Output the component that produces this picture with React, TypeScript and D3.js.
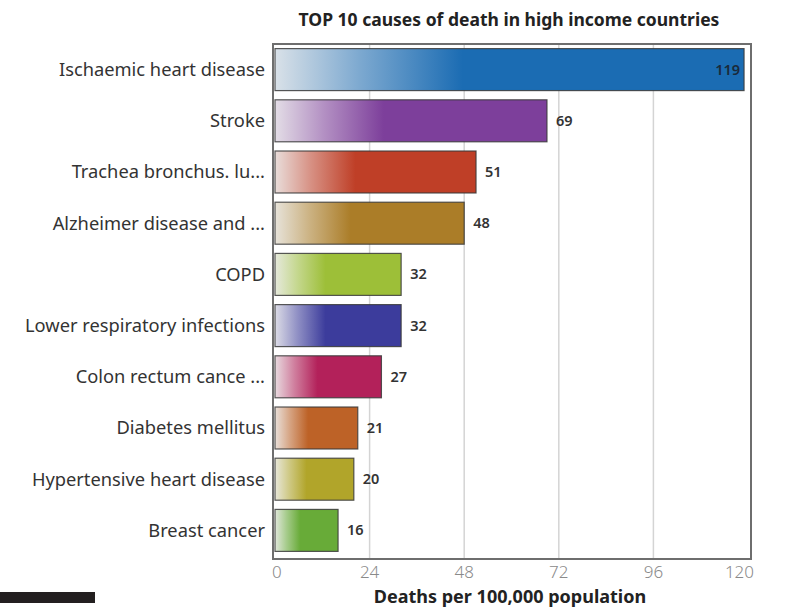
import React, { useEffect, useRef } from 'react';
import * as d3 from 'd3';

const causes = [
  'Ischaemic heart disease',
  'Stroke',
  'Trachea bronchus. lu...',
  'Alzheimer disease and ...',
  'COPD',
  'Lower respiratory infections',
  'Colon rectum cance ...',
  'Diabetes mellitus',
  'Hypertensive heart disease',
  'Breast cancer',
];
const deaths = [119, 69, 51, 48, 32, 32, 27, 21, 20, 16];
const barColors = [
  '#1b6cb3', '#7d3f9b', '#bf3f27', '#ab7d28', '#9dbf38',
  '#3c3c9c', '#b3215a', '#bd6227', '#b1a52a', '#68ab38',
];
const xTicks = [0, 24, 48, 72, 96, 120];

const W = 788;
const H = 609;
const FONT = 'Noto Sans, sans-serif';

export default function App() {
  const svgRef = useRef<SVGSVGElement>(null);

  useEffect(() => {
    if (!svgRef.current) return;
    const svg = d3.select(svgRef.current);
    svg.selectAll('*').remove();

    const frame = { x0: 273, x1: 751, y0: 44, y1: 559 };

    const x = d3.scaleLinear().domain([0, 120]).range([275, 748]);
    const y = d3.scaleBand<string>()
      .domain(causes)
      .range([44, 556])
      .paddingInner(0.18)
      .paddingOuter(0.09);

    const rows = causes.map((c, i) => ({ name: c, value: deaths[i], color: barColors[i], i }));

    // gradients: pale on the left, full colour from ~40% of the bar
    const defs = svg.append('defs');
    rows.forEach(r => {
      const g = defs.append('linearGradient')
        .attr('id', `grad${r.i}`)
        .attr('x1', '0').attr('x2', '1').attr('y1', '0').attr('y2', '0');
      g.append('stop').attr('offset', '0').attr('stop-color', d3.interpolateRgb(r.color, '#eeeeee')(0.9));
      g.append('stop').attr('offset', '0.18').attr('stop-color', d3.interpolateRgb(r.color, '#f4f4f4')(0.45));
      g.append('stop').attr('offset', '0.4').attr('stop-color', r.color);
      g.append('stop').attr('offset', '1').attr('stop-color', r.color);
    });

    // title
    svg.append('text')
      .attr('x', 509).attr('y', 26)
      .attr('text-anchor', 'middle')
      .style('font-family', FONT)
      .style('font-size', '17.5px')
      .style('font-weight', 'bold')
      .style('fill', '#222')
      .text('TOP 10 causes of death in high income countries');

    // plot background + grid
    svg.append('rect')
      .attr('x', frame.x0).attr('y', frame.y0)
      .attr('width', frame.x1 - frame.x0).attr('height', frame.y1 - frame.y0)
      .attr('fill', '#fff');

    svg.append('g')
      .selectAll('line')
      .data(xTicks.slice(1, -1))
      .enter()
      .append('line')
      .attr('x1', d => x(d)).attr('x2', d => x(d))
      .attr('y1', frame.y0).attr('y2', frame.y1)
      .attr('stroke', '#d4d4d4')
      .attr('stroke-width', 1.5);

    // bars
    const bars = svg.append('g')
      .selectAll('g')
      .data(rows)
      .enter()
      .append('g');

    bars.append('rect')
      .attr('x', x(0))
      .attr('y', d => y(d.name) || 0)
      .attr('width', d => x(d.value) - x(0))
      .attr('height', y.bandwidth())
      .attr('fill', d => `url(#grad${d.i})`)
      .attr('stroke', '#3a3a3a')
      .attr('stroke-opacity', 0.85)
      .attr('stroke-width', 1.2);

    bars.append('text')
      .attr('x', d => d.value > 100 ? x(d.value) - 4 : x(d.value) + 9)
      .attr('y', d => (y(d.name) || 0) + y.bandwidth() / 2)
      .attr('dy', '0.35em')
      .attr('text-anchor', d => d.value > 100 ? 'end' : 'start')
      .style('font-family', FONT)
      .style('font-size', '14.5px')
      .style('font-weight', '600')
      .style('fill', d => d.value > 100 ? '#1a2a3a' : '#333')
      .text(d => d.value);

    // frame
    svg.append('rect')
      .attr('x', frame.x0).attr('y', frame.y0)
      .attr('width', frame.x1 - frame.x0).attr('height', frame.y1 - frame.y0)
      .attr('fill', 'none')
      .attr('stroke', '#6e6e6e')
      .attr('stroke-width', 2);

    // category labels
    svg.append('g')
      .selectAll('text')
      .data(rows)
      .enter()
      .append('text')
      .attr('x', 265)
      .attr('y', d => (y(d.name) || 0) + y.bandwidth() / 2)
      .attr('dy', '0.35em')
      .attr('text-anchor', 'end')
      .style('font-family', FONT)
      .style('font-size', '18.3px')
      .style('fill', '#333')
      .text(d => d.name);

    // x tick labels
    svg.append('g')
      .selectAll('text')
      .data(xTicks)
      .enter()
      .append('text')
      .attr('x', d => x(d))
      .attr('y', 578)
      .attr('text-anchor', d => d === 0 ? 'start' : d === 120 ? 'end' : 'middle')
      .attr('dx', d => d === 0 ? -3 : d === 120 ? 6 : 0)
      .style('font-family', FONT)
      .style('font-size', '17px')
      .style('font-weight', '300')
      .style('fill', '#8a8a8a')
      .text(d => d);

    // axis title
    svg.append('text')
      .attr('x', 510).attr('y', 603)
      .attr('text-anchor', 'middle')
      .style('font-family', FONT)
      .style('font-size', '18px')
      .style('font-weight', 'bold')
      .style('fill', '#222')
      .text('Deaths per 100,000 population');

    // black bar at bottom left
    svg.append('rect')
      .attr('x', 0).attr('y', 592)
      .attr('width', 95).attr('height', 11)
      .attr('fill', '#231f20');
  }, []);

  return (
    <svg
      ref={svgRef}
      width={W}
      height={H}
      viewBox={`0 0 ${W} ${H}`}
      style={{ position: 'absolute', left: 0, top: 0, background: '#fff' }}
    />
  );
}
